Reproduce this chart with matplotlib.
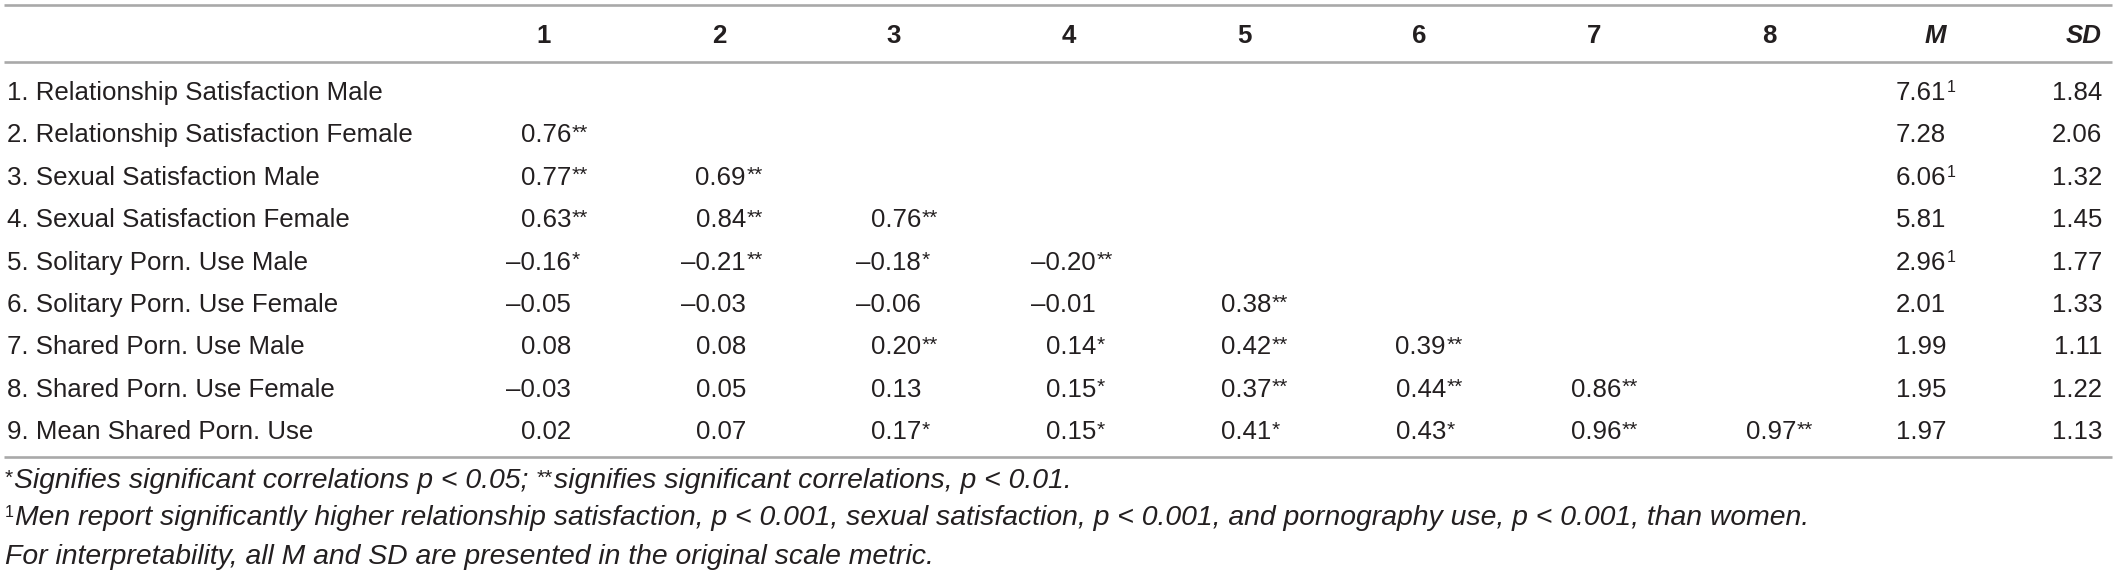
import matplotlib
matplotlib.use("Agg")
import matplotlib.pyplot as plt

# ---------------- data ----------------
row_labels = [
    "1. Relationship Satisfaction Male",
    "2. Relationship Satisfaction Female",
    "3. Sexual Satisfaction Male",
    "4. Sexual Satisfaction Female",
    "5. Solitary Porn. Use Male",
    "6. Solitary Porn. Use Female",
    "7. Shared Porn. Use Male",
    "8. Shared Porn. Use Female",
    "9. Mean Shared Porn. Use",
]
col_headers = ["1", "2", "3", "4", "5", "6", "7", "8"]
corr_values = [
    [],
    [0.76],
    [0.77, 0.69],
    [0.63, 0.84, 0.76],
    [-0.16, -0.21, -0.18, -0.20],
    [-0.05, -0.03, -0.06, -0.01, 0.38],
    [0.08, 0.08, 0.20, 0.14, 0.42, 0.39],
    [-0.03, 0.05, 0.13, 0.15, 0.37, 0.44, 0.86],
    [0.02, 0.07, 0.17, 0.15, 0.41, 0.43, 0.96, 0.97],
]
corr_stars = [
    [],
    ["**"],
    ["**", "**"],
    ["**", "**", "**"],
    ["*", "**", "*", "**"],
    ["", "", "", "", "**"],
    ["", "", "**", "*", "**", "**"],
    ["", "", "", "*", "**", "**", "**"],
    ["", "", "*", "*", "*", "*", "**", "**"],
]
means = [7.61, 7.28, 6.06, 5.81, 2.96, 2.01, 1.99, 1.95, 1.97]
mean_marks = ["1", "", "1", "", "1", "", "", "", ""]
sds = [1.84, 2.06, 1.32, 1.45, 1.77, 1.33, 1.11, 1.22, 1.13]
footnotes = [
    [("*", "sup"), ("Signifies significant correlations p < 0.05;", "it"), (" ", "gap"),
     ("**", "sup"), ("signifies significant correlations, p < 0.01.", "it")],
    [("1", "supn"), ("Men report significantly higher relationship satisfaction, p < 0.001, "
                     "sexual satisfaction, p < 0.001, and pornography use, p < 0.001, than women.", "it")],
    [("For interpretability, all M and SD are presented in the original scale metric.", "it")],
]

# ---------------- layout ----------------
W, H = 2117, 575
FAM = ["Liberation Sans", "DejaVu Sans"]
TXT = "#231f20"
RULE = "#a9a9a9"
BODY = 18.6
FOOT = 20.4
STARSZ = 15
SUPSZ = 11.5

fig = plt.figure(figsize=(W / 100, H / 100), dpi=100)
ax = fig.add_axes([0, 0, 1, 1])
ax.set_xlim(0, W)
ax.set_ylim(H, 0)
ax.axis("off")
renderer = fig.canvas.get_renderer()

label_x = 7
col_centers = [544 + 175 * k for k in range(8)]
col_right = [c + 27 for c in col_centers]
m_right = 1946
sd_right = 2102
header_base = 43
row_base0 = 100
row_step = 42.4
foot_base = [488, 525, 564]

for yy in (5, 62, 457):
    ax.plot([4, 2112], [yy, yy], color=RULE, lw=1.9, solid_capstyle="butt")


def fmt(v):
    s = f"{abs(v):.2f}"
    return ("\u2013" + s) if v < 0 else s


# header
for c, h in zip(col_centers, col_headers):
    ax.text(c, header_base, h, ha="center", va="baseline", fontsize=BODY,
            fontweight="bold", family=FAM, color=TXT)
ax.text(m_right, header_base, "M", ha="right", va="baseline", fontsize=BODY,
        fontweight="bold", fontstyle="italic", family=FAM, color=TXT)
ax.text(sd_right, header_base, "SD", ha="right", va="baseline", fontsize=BODY,
        fontweight="bold", fontstyle="italic", family=FAM, color=TXT)

# body
for i, lab in enumerate(row_labels):
    yb = row_base0 + row_step * i
    ax.text(label_x, yb, lab, ha="left", va="baseline", fontsize=BODY,
            family=FAM, color=TXT)
    for j, (v, st) in enumerate(zip(corr_values[i], corr_stars[i])):
        ax.text(col_right[j], yb, fmt(v), ha="right", va="baseline",
                fontsize=BODY, family=FAM, color=TXT)
        if st:
            ax.text(col_right[j] + 1, yb - 3.5, st, ha="left", va="baseline",
                    fontsize=STARSZ, family=FAM, color=TXT)
    ax.text(m_right, yb, f"{means[i]:.2f}", ha="right", va="baseline",
            fontsize=BODY, family=FAM, color=TXT)
    if mean_marks[i]:
        ax.text(m_right + 1, yb - 8, mean_marks[i], ha="left", va="baseline",
                fontsize=SUPSZ, family=FAM, color=TXT)
    ax.text(sd_right, yb, f"{sds[i]:.2f}", ha="right", va="baseline",
            fontsize=BODY, family=FAM, color=TXT)

# footnotes
for line, yb in zip(footnotes, foot_base):
    x = label_x - 2
    for s, kind in line:
        if kind == "gap":
            x += 7
            continue
        if kind == "it":
            t = ax.text(x, yb, s, ha="left", va="baseline", fontsize=FOOT,
                        fontstyle="italic", family=FAM, color=TXT)
        elif kind == "sup":
            t = ax.text(x, yb - 4, s, ha="left", va="baseline", fontsize=STARSZ,
                        family=FAM, color=TXT)
        else:
            t = ax.text(x, yb - 8, s, ha="left", va="baseline", fontsize=SUPSZ,
                        family=FAM, color=TXT)
        bb = t.get_window_extent(renderer=renderer)
        x += bb.width + 1

fig.savefig("out.png", dpi=100, facecolor="white")
